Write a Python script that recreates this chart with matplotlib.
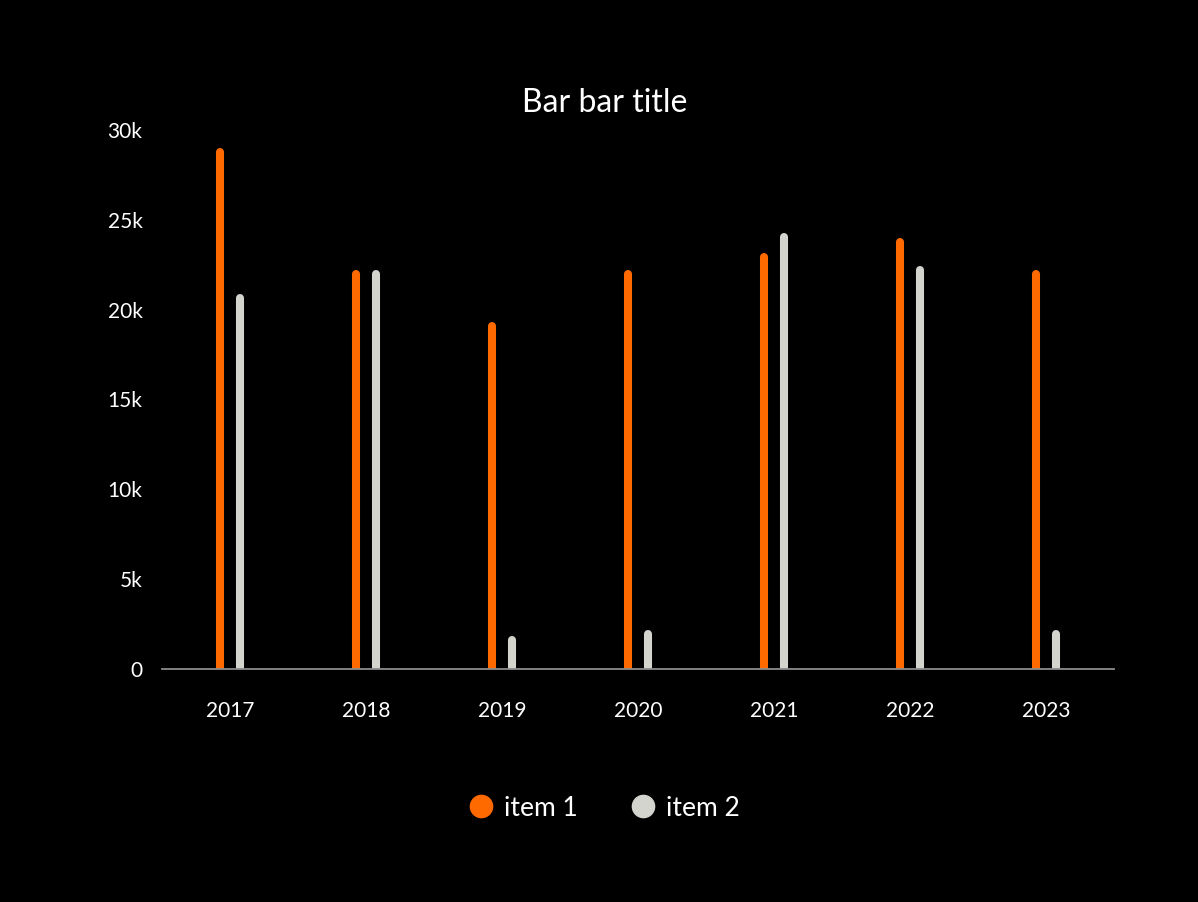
import matplotlib
matplotlib.use("Agg")
import matplotlib.pyplot as plt
from matplotlib.transforms import ScaledTranslation
from matplotlib.lines import Line2D
import numpy as np

categories = ["2017", "2018", "2019", "2020", "2021", "2022", "2023"]
item1 = [29000, 22200, 19300, 22200, 23150, 24000, 22200]
item2 = [20900, 22200, 1850, 2150, 24250, 22450, 2150]
series_names = ["item 1", "item 2"]
colors = ["#FF6A00", "#D3D4CE"]
yticks = [0, 5000, 10000, 15000, 20000, 25000, 30000]
ytick_labels = ["0", "5k", "10k", "15k", "20k", "25k", "30k"]

plt.rcParams['font.family'] = ['Lato', 'DejaVu Sans']

fig = plt.figure(figsize=(11.98, 9.02), dpi=100, facecolor="black")
ax = fig.add_axes([0.1352, 0.2583, 0.795, 0.5976])
ax.set_facecolor("black")

x = np.arange(len(categories))
offset = 0.074
lw = 5.8  # points
shift = ScaledTranslation(0, -lw / 2 / 72, fig.dpi_scale_trans)
for vals, off, c in [(item1, -offset, colors[0]), (item2, offset, colors[1])]:
    for xi, v in zip(x, vals):
        ax.plot([xi + off, xi + off], [0, v], color=c, lw=lw,
                solid_capstyle="round", transform=ax.transData + shift,
                clip_on=True, zorder=2)

ax.set_xlim(-0.5, len(categories) - 0.5)
ax.set_ylim(0, 30000)
ax.set_xticks(x)
ax.set_xticklabels(categories, color="white", fontsize=15)
ax.set_yticks(yticks)
ax.set_yticklabels(ytick_labels, color="white", fontsize=15)
ax.tick_params(axis="both", length=0)
ax.tick_params(axis="x", pad=23)
ax.tick_params(axis="y", pad=14)
for s in ["top", "right", "left"]:
    ax.spines[s].set_visible(False)
ax.spines["bottom"].set_color("#8C8C8C")
ax.spines["bottom"].set_linewidth(1.3)
ax.spines["bottom"].set_zorder(3)

fig.text(0.5045, 0.8855, "Bar bar title", color="white", fontsize=23,
         ha="center", va="center")

handles = [Line2D([], [], marker="o", linestyle="none", markersize=16,
                  markerfacecolor=c, markeredgecolor=c) for c in colors]
leg = fig.legend(handles, series_names, loc="center", bbox_to_anchor=(0.504, 0.104),
                 ncol=2, frameon=False, fontsize=19, handletextpad=0.35,
                 columnspacing=2.0, labelcolor="white", handlelength=1.0)

fig.savefig("out.png", dpi=100, facecolor="black")
